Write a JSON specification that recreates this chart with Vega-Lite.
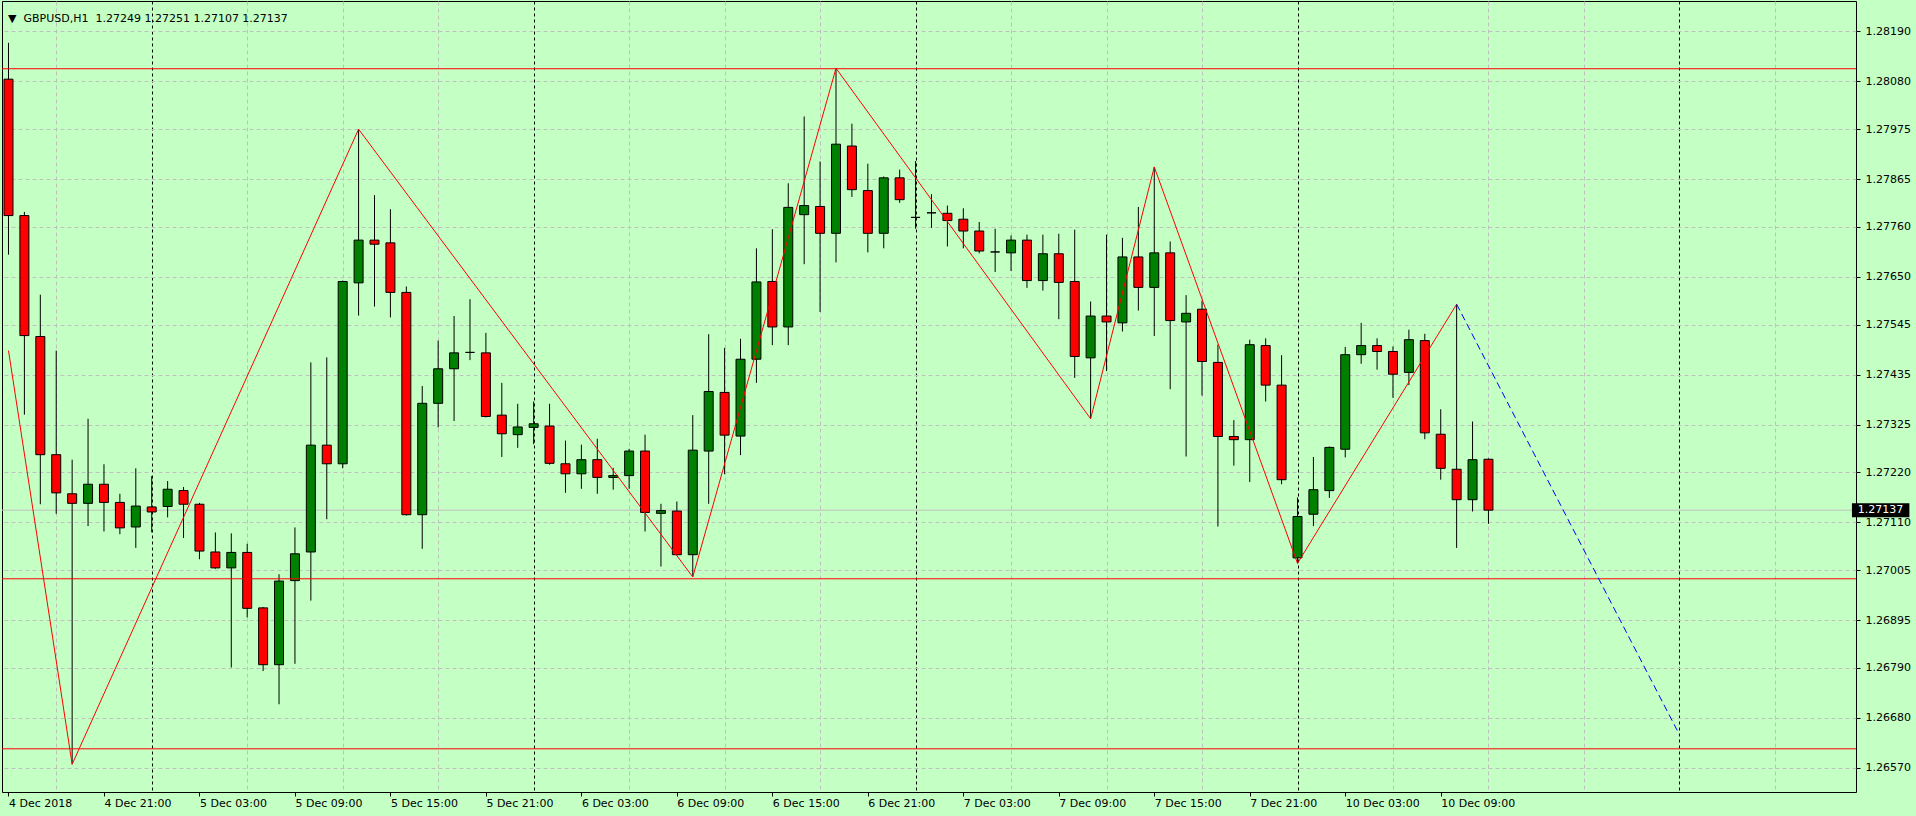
{
  "$schema": "https://vega.github.io/schema/vega-lite/v6.json",
  "width": 1854,
  "height": 791,
  "autosize": {"type": "none"},
  "padding": {"left": 2, "top": 1, "right": 60, "bottom": 24},
  "background": "#C4FFC4",
  "config": {
    "view": {"stroke": "#000000", "strokeWidth": 1, "fill": "#C4FFC4"},
    "font": "DejaVu Sans",
    "axis": {"labelFont": "DejaVu Sans", "labelFontSize": 11, "labelColor": "#000000", "tickColor": "#000000", "title": null}
  },
  "title": {
    "text": "▼\u00a0 GBPUSD,H1\u00a0 1.27249 1.27251 1.27107 1.27137",
    "anchor": "start",
    "frame": "group",
    "orient": "top",
    "offset": -23,
    "dx": 6,
    "font": "DejaVu Sans",
    "fontSize": 11,
    "fontWeight": "normal",
    "color": "#000000"
  },
  "datasets": {
    "candles": [
      {"i":0,"o":1.28085,"h":1.28165,"l":1.27699,"c":1.27785},
      {"i":1,"o":1.27785,"h":1.27793,"l":1.27347,"c":1.27521},
      {"i":2,"o":1.27519,"h":1.27611,"l":1.2715,"c":1.27259},
      {"i":3,"o":1.27259,"h":1.27488,"l":1.27129,"c":1.27175},
      {"i":4,"o":1.27173,"h":1.27248,"l":1.26578,"c":1.27152},
      {"i":5,"o":1.27152,"h":1.27338,"l":1.27102,"c":1.27194},
      {"i":6,"o":1.27194,"h":1.27238,"l":1.2709,"c":1.27154},
      {"i":7,"o":1.27154,"h":1.27173,"l":1.27084,"c":1.27098},
      {"i":8,"o":1.271,"h":1.27229,"l":1.27054,"c":1.27146},
      {"i":9,"o":1.27144,"h":1.27212,"l":1.27088,"c":1.27133},
      {"i":10,"o":1.27145,"h":1.27201,"l":1.27121,"c":1.27183},
      {"i":11,"o":1.2718,"h":1.27188,"l":1.27076,"c":1.2715},
      {"i":12,"o":1.2715,"h":1.27153,"l":1.27029,"c":1.27047},
      {"i":13,"o":1.27045,"h":1.27088,"l":1.27008,"c":1.2701},
      {"i":14,"o":1.2701,"h":1.27086,"l":1.26791,"c":1.27044},
      {"i":15,"o":1.27044,"h":1.27063,"l":1.26901,"c":1.26921},
      {"i":16,"o":1.26922,"h":1.26924,"l":1.26783,"c":1.26797},
      {"i":17,"o":1.26797,"h":1.26996,"l":1.2671,"c":1.26981},
      {"i":18,"o":1.26982,"h":1.27099,"l":1.26799,"c":1.27041},
      {"i":19,"o":1.27045,"h":1.27462,"l":1.26938,"c":1.2728},
      {"i":20,"o":1.2728,"h":1.27473,"l":1.27117,"c":1.27239},
      {"i":21,"o":1.27239,"h":1.27642,"l":1.27229,"c":1.2764},
      {"i":22,"o":1.27637,"h":1.27975,"l":1.27565,"c":1.27731},
      {"i":23,"o":1.27731,"h":1.2783,"l":1.27585,"c":1.27722},
      {"i":24,"o":1.27725,"h":1.27799,"l":1.27561,"c":1.27616},
      {"i":25,"o":1.27616,"h":1.27629,"l":1.27125,"c":1.27127},
      {"i":26,"o":1.27127,"h":1.2741,"l":1.27052,"c":1.27372},
      {"i":27,"o":1.27372,"h":1.2751,"l":1.27319,"c":1.27448},
      {"i":28,"o":1.27448,"h":1.27564,"l":1.27333,"c":1.27483},
      {"i":29,"o":1.27484,"h":1.27601,"l":1.27467,"c":1.27484},
      {"i":30,"o":1.27483,"h":1.27527,"l":1.27341,"c":1.27343},
      {"i":31,"o":1.27346,"h":1.27417,"l":1.27254,"c":1.27305},
      {"i":32,"o":1.27303,"h":1.27371,"l":1.27274,"c":1.2732},
      {"i":33,"o":1.27319,"h":1.27376,"l":1.27282,"c":1.27327},
      {"i":34,"o":1.27322,"h":1.27371,"l":1.27237,"c":1.2724},
      {"i":35,"o":1.27239,"h":1.2729,"l":1.27175,"c":1.27217},
      {"i":36,"o":1.27217,"h":1.27281,"l":1.27184,"c":1.27248},
      {"i":37,"o":1.27248,"h":1.27294,"l":1.27173,"c":1.27209},
      {"i":38,"o":1.27209,"h":1.2723,"l":1.27182,"c":1.27213},
      {"i":39,"o":1.27213,"h":1.27272,"l":1.27184,"c":1.27267},
      {"i":40,"o":1.27267,"h":1.27303,"l":1.2709,"c":1.27132},
      {"i":41,"o":1.2713,"h":1.27151,"l":1.27013,"c":1.27136},
      {"i":42,"o":1.27135,"h":1.27156,"l":1.27037,"c":1.27039},
      {"i":43,"o":1.27039,"h":1.27346,"l":1.2699,"c":1.27269},
      {"i":44,"o":1.27267,"h":1.27524,"l":1.27151,"c":1.27398},
      {"i":45,"o":1.27396,"h":1.27494,"l":1.27216,"c":1.27302},
      {"i":46,"o":1.273,"h":1.27514,"l":1.27258,"c":1.27469},
      {"i":47,"o":1.27469,"h":1.27713,"l":1.27417,"c":1.27639},
      {"i":48,"o":1.2764,"h":1.27755,"l":1.275,"c":1.2754},
      {"i":49,"o":1.2754,"h":1.27856,"l":1.275,"c":1.27803},
      {"i":50,"o":1.27787,"h":1.28003,"l":1.27678,"c":1.27807},
      {"i":51,"o":1.27805,"h":1.27904,"l":1.27573,"c":1.27746},
      {"i":52,"o":1.27746,"h":1.28109,"l":1.27682,"c":1.27942},
      {"i":53,"o":1.27938,"h":1.27987,"l":1.27826,"c":1.27842},
      {"i":54,"o":1.2784,"h":1.27899,"l":1.27704,"c":1.27746},
      {"i":55,"o":1.27746,"h":1.27871,"l":1.27713,"c":1.27868},
      {"i":56,"o":1.27868,"h":1.27886,"l":1.27813,"c":1.2782},
      {"i":57,"o":1.27781,"h":1.27905,"l":1.27756,"c":1.27781},
      {"i":58,"o":1.27791,"h":1.27832,"l":1.27758,"c":1.27791},
      {"i":59,"o":1.2779,"h":1.27807,"l":1.27717,"c":1.27774},
      {"i":60,"o":1.27777,"h":1.27801,"l":1.27713,"c":1.27751},
      {"i":61,"o":1.27751,"h":1.27771,"l":1.27702,"c":1.27707},
      {"i":62,"o":1.27705,"h":1.27756,"l":1.27661,"c":1.27705},
      {"i":63,"o":1.27703,"h":1.27741,"l":1.27663,"c":1.27731},
      {"i":64,"o":1.27731,"h":1.27743,"l":1.27626,"c":1.27642},
      {"i":65,"o":1.27642,"h":1.27743,"l":1.2762,"c":1.27701},
      {"i":66,"o":1.27701,"h":1.27745,"l":1.27557,"c":1.27638},
      {"i":67,"o":1.2764,"h":1.27754,"l":1.27428,"c":1.27475},
      {"i":68,"o":1.27472,"h":1.27596,"l":1.27338,"c":1.27564},
      {"i":69,"o":1.27564,"h":1.27743,"l":1.27443,"c":1.27551},
      {"i":70,"o":1.27549,"h":1.27736,"l":1.2753,"c":1.27694},
      {"i":71,"o":1.27694,"h":1.27804,"l":1.27576,"c":1.27627},
      {"i":72,"o":1.27627,"h":1.27892,"l":1.2752,"c":1.27703},
      {"i":73,"o":1.27703,"h":1.27728,"l":1.27403,"c":1.27554},
      {"i":74,"o":1.27551,"h":1.2761,"l":1.27255,"c":1.2757},
      {"i":75,"o":1.27579,"h":1.27598,"l":1.27389,"c":1.27464},
      {"i":76,"o":1.27462,"h":1.27501,"l":1.27101,"c":1.27299},
      {"i":77,"o":1.27299,"h":1.27335,"l":1.27235,"c":1.27292},
      {"i":78,"o":1.27292,"h":1.27512,"l":1.27199,"c":1.27501},
      {"i":79,"o":1.27499,"h":1.27515,"l":1.27376,"c":1.27412},
      {"i":80,"o":1.27412,"h":1.27478,"l":1.27194,"c":1.27204},
      {"i":81,"o":1.27032,"h":1.27165,"l":1.2702,"c":1.27123},
      {"i":82,"o":1.27128,"h":1.27254,"l":1.27102,"c":1.27182},
      {"i":83,"o":1.2718,"h":1.27277,"l":1.27164,"c":1.27275},
      {"i":84,"o":1.27271,"h":1.27496,"l":1.27253,"c":1.27479},
      {"i":85,"o":1.27479,"h":1.27549,"l":1.27459,"c":1.27499},
      {"i":86,"o":1.27499,"h":1.27515,"l":1.27446,"c":1.27486},
      {"i":87,"o":1.27486,"h":1.27497,"l":1.27384,"c":1.27436},
      {"i":88,"o":1.2744,"h":1.27534,"l":1.27412,"c":1.27512},
      {"i":89,"o":1.2751,"h":1.27525,"l":1.27293,"c":1.27307},
      {"i":90,"o":1.27304,"h":1.27359,"l":1.27204,"c":1.27229},
      {"i":91,"o":1.27227,"h":1.2759,"l":1.27054,"c":1.2716},
      {"i":92,"o":1.2716,"h":1.27332,"l":1.27134,"c":1.27248},
      {"i":93,"o":1.27249,"h":1.27251,"l":1.27107,"c":1.27137}
    ],
    "zigzag": [
      {"i":0,"p":1.27488},{"i":4,"p":1.26578},{"i":22,"p":1.27975},{"i":43,"p":1.2699},
      {"i":52,"p":1.28109},{"i":68,"p":1.27338},{"i":72,"p":1.27892},{"i":81,"p":1.2702},{"i":91,"p":1.2759}
    ],
    "projection": [{"i":91,"p":1.2759},{"i":105,"p":1.26643}],
    "levels": [{"p":1.28108},{"p":1.26986},{"p":1.26612}]
  },
  "resolve": {"axis": {"x": "independent", "y": "independent"}},
  "layer": [
    {
      "data": {"name": "candles"},
      "transform": [{"filter": "datum.i == 93"}],
      "mark": {"type": "rule", "color": "#C0C0C0", "strokeWidth": 1},
      "encoding": {
        "y": {"field": "c", "type": "quantitative", "scale": {"domain": [1.26528, 1.28246], "zero": false, "nice": false}, "axis": null}
      }
    },
    {
      "data": {"name": "candles"},
      "mark": {"type": "rule", "color": "#000000", "strokeWidth": 1, "clip": true},
      "encoding": {
        "x": {"field": "i", "type": "quantitative", "scale": {"domain": [-0.09375, 115.78125], "zero": false, "nice": false},
          "axis": {"orient": "bottom", "values": [3,15,21,27,39,45,51,63,69,75,87,93,99,111], "grid": true, "gridColor": "#C0C0C0", "gridDash": [4,3], "gridWidth": 1, "labels": false, "ticks": false, "domain": false, "title": null}},
        "y": {"field": "l", "type": "quantitative", "scale": {"domain": [1.26528, 1.28246], "zero": false, "nice": false},
          "axis": {"orient": "right", "values": [1.2819,1.2808,1.27975,1.27865,1.2776,1.2765,1.27545,1.27435,1.27325,1.2722,1.2711,1.27005,1.26895,1.2679,1.2668,1.2657],
            "format": ".5f", "grid": true, "gridColor": "#C0C0C0", "gridDash": [4,3], "gridWidth": 1, "domain": false, "ticks": true, "tickSize": 4, "tickColor": "#000000",
            "labelPadding": 5, "labelAlign": "left", "labelBaseline": "middle", "labelOverlap": false, "labelFlush": false, "labelBound": false, "title": null}},
        "y2": {"field": "h"}
      }
    },
    {
      "data": {"name": "candles"},
      "mark": {"type": "bar", "width": 9, "stroke": "#000000", "strokeWidth": 1, "clip": true},
      "encoding": {
        "x": {"field": "i", "type": "quantitative", "scale": {"domain": [-0.09375, 115.78125], "zero": false, "nice": false},
          "axis": {"orient": "bottom", "values": [9,33,57,81,105], "grid": true, "gridColor": "#000000", "gridDash": [3,3], "gridWidth": 1, "labels": false, "ticks": false, "domain": false, "title": null}},
        "y": {"field": "o", "type": "quantitative", "scale": {"domain": [1.26528, 1.28246], "zero": false, "nice": false}, "axis": null},
        "y2": {"field": "c"},
        "fill": {"condition": [{"test": "datum.c > datum.o", "value": "#008000"}, {"test": "datum.c < datum.o", "value": "#FF0000"}], "value": "#000000"}
      }
    },
    {
      "data": {"name": "levels"},
      "mark": {"type": "rule", "color": "#FF0000", "strokeWidth": 1},
      "encoding": {
        "y": {"field": "p", "type": "quantitative", "scale": {"domain": [1.26528, 1.28246], "zero": false, "nice": false}, "axis": null}
      }
    },
    {
      "data": {"name": "zigzag"},
      "mark": {"type": "line", "color": "#FF0000", "strokeWidth": 1, "clip": true},
      "encoding": {
        "x": {"field": "i", "type": "quantitative", "scale": {"domain": [-0.09375, 115.78125], "zero": false, "nice": false},
          "axis": {"orient": "bottom", "values": [0,6,12,18,24,30,36,42,48,54,60,66,72,78,84,90], "grid": false, "domain": false, "ticks": true, "tickSize": 4, "tickColor": "#000000",
            "labelAlign": "left", "labelBaseline": "top", "labelPadding": 1, "labelDx": -2, "labelOverlap": false, "labelFlush": false, "labelBound": false, "title": null,
            "labelExpr": "['4 Dec 2018','4 Dec 21:00','5 Dec 03:00','5 Dec 09:00','5 Dec 15:00','5 Dec 21:00','6 Dec 03:00','6 Dec 09:00','6 Dec 15:00','6 Dec 21:00','7 Dec 03:00','7 Dec 09:00','7 Dec 15:00','7 Dec 21:00','10 Dec 03:00','10 Dec 09:00'][round(datum.value/6)]"}},
        "y": {"field": "p", "type": "quantitative", "scale": {"domain": [1.26528, 1.28246], "zero": false, "nice": false}, "axis": null}
      }
    },
    {
      "data": {"name": "projection"},
      "mark": {"type": "line", "color": "#0000FF", "strokeWidth": 1, "strokeDash": [7,4], "clip": true},
      "encoding": {
        "x": {"field": "i", "type": "quantitative", "scale": {"domain": [-0.09375, 115.78125], "zero": false, "nice": false}, "axis": null},
        "y": {"field": "p", "type": "quantitative", "scale": {"domain": [1.26528, 1.28246], "zero": false, "nice": false}, "axis": null}
      }
    },
    {
      "data": {"name": "candles"},
      "transform": [{"filter": "datum.i == 93"}],
      "mark": {"type": "bar", "size": 14, "color": "#000000", "clip": false},
      "encoding": {
        "x": {"datum": 115.84, "type": "quantitative", "scale": {"domain": [-0.09375, 115.78125], "zero": false, "nice": false}, "axis": null},
        "x2": {"datum": 119.45},
        "y": {"field": "c", "type": "quantitative", "scale": {"domain": [1.26528, 1.28246], "zero": false, "nice": false}, "axis": null}
      }
    },
    {
      "data": {"name": "candles"},
      "transform": [{"filter": "datum.i == 93"}],
      "mark": {"type": "text", "color": "#FFFFFF", "align": "left", "baseline": "middle", "fontSize": 11, "font": "DejaVu Sans", "clip": false},
      "encoding": {
        "x": {"datum": 116.2, "type": "quantitative", "scale": {"domain": [-0.09375, 115.78125], "zero": false, "nice": false}, "axis": null},
        "y": {"field": "c", "type": "quantitative", "scale": {"domain": [1.26528, 1.28246], "zero": false, "nice": false}, "axis": null},
        "text": {"field": "c", "type": "quantitative", "format": ".5f"}
      }
    }
  ]
}
